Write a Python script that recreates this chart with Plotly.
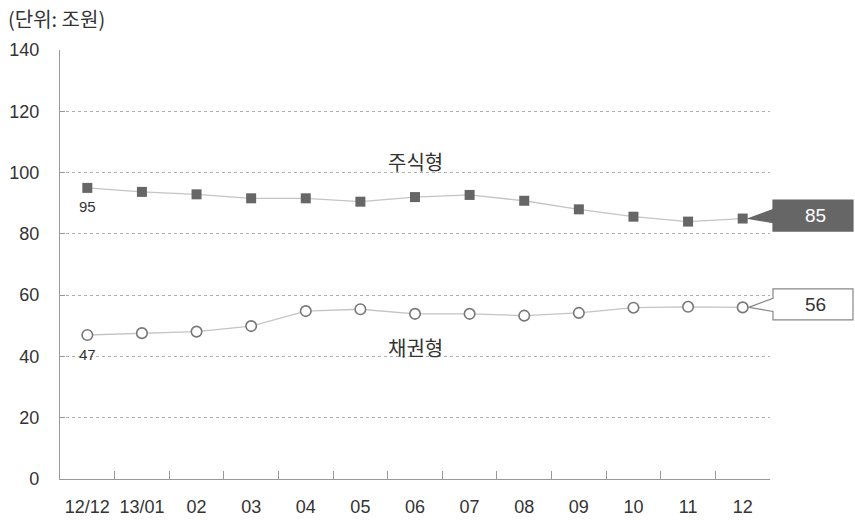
import plotly.graph_objects as go

# Monthly fund balances (trillion won)
months = ["12/12", "13/01", "02", "03", "04", "05", "06", "07", "08", "09", "10", "11", "12"]
equity = [95, 93.7, 92.9, 91.6, 91.6, 90.5, 92.0, 92.7, 90.8, 88.0, 85.6, 84.0, 85]
bond = [47, 47.6, 48.1, 49.9, 54.8, 55.4, 53.9, 53.9, 53.3, 54.2, 55.9, 56.2, 56]
y_ticks = [0, 20, 40, 60, 80, 100, 120, 140]

NUM_FONT = "Liberation Sans, Arial, sans-serif"
KO_FONT = "Noto Sans CJK KR, sans-serif"
TXT = "#333333"

# Plot area geometry (pixels) used for the end-of-line callouts
FIG_W, FIG_H = 855, 520
M_L, M_R, M_T, M_B = 60, 85, 50, 41
PW = FIG_W - M_L - M_R
PH = FIG_H - M_T - M_B
Y_MAX = 140


def px_x(p):
    return (p - M_L) / PW


def px_y(p):
    return 1 - (p - M_T) / PH


def val_to_px_y(v):
    return M_T + PH * (1 - v / Y_MAX)


def cat_to_px_x(i):
    return M_L + (i + 0.5) * PW / len(months)


fig = go.Figure()

fig.add_trace(go.Scatter(
    x=months, y=equity, mode="lines+markers", name="주식형",
    line=dict(color="#c4c4c4", width=1.3),
    marker=dict(symbol="square", size=10, color="#666666",
                line=dict(color="#666666", width=0)),
    cliponaxis=False,
))
fig.add_trace(go.Scatter(
    x=months, y=bond, mode="lines+markers", name="채권형",
    line=dict(color="#c4c4c4", width=1.3),
    marker=dict(symbol="circle", size=10.5, color="white",
                line=dict(color="#777777", width=1.6)),
    cliponaxis=False,
))

annotations = [
    dict(text="(단위: 조원)", xref="paper", yref="paper",
         x=px_x(6), y=px_y(18), xanchor="left", yanchor="middle",
         showarrow=False, font=dict(size=20, color=TXT, family=KO_FONT)),
    dict(text=str(round(equity[0])), x=months[0], y=equity[0], yshift=-19,
         showarrow=False, font=dict(size=15, color=TXT, family=NUM_FONT)),
    dict(text=str(round(bond[0])), x=months[0], y=bond[0], yshift=-20,
         showarrow=False, font=dict(size=15, color=TXT, family=NUM_FONT)),
    dict(text="주식형", x=months[6], y=103.5, showarrow=False,
         font=dict(size=20, color=TXT, family=KO_FONT)),
    dict(text="채권형", x=months[6], y=43, showarrow=False,
         font=dict(size=20, color=TXT, family=KO_FONT)),
]

shapes = []


def callout(value, fill, line_col, text_col):
    """Box to the right of the plot with a wedge pointing at the last point."""
    tip_x = cat_to_px_x(len(months) - 1) + 6
    tip_y = val_to_px_y(value)
    cy = tip_y - 3
    left, right = 773, 853
    top, bot = cy - 15.5, cy + 15.5
    w1, w2 = tip_y - 9, tip_y + 4
    pts = [(left, top), (right, top), (right, bot), (left, bot),
           (left, w2), (tip_x, tip_y), (left, w1)]
    path = "M " + " L ".join(f"{px_x(a):.5f},{px_y(b):.5f}" for a, b in pts) + " Z"
    shapes.append(dict(type="path", path=path, xref="paper", yref="paper",
                       fillcolor=fill, line=dict(color=line_col, width=1.2),
                       layer="above"))
    annotations.append(dict(text=str(round(value)), xref="paper", yref="paper",
                            x=px_x((left + right) / 2 + 3), y=px_y(cy),
                            xanchor="center", yanchor="middle", showarrow=False,
                            font=dict(size=19, color=text_col, family=NUM_FONT)))


callout(equity[-1], "#666666", "#666666", "white")
callout(bond[-1], "white", "#888888", TXT)

fig.update_layout(
    width=FIG_W, height=FIG_H,
    margin=dict(l=M_L, r=M_R, t=M_T, b=M_B, pad=0, autoexpand=False),
    paper_bgcolor="white", plot_bgcolor="white",
    showlegend=False,
    font=dict(family=NUM_FONT, color=TXT, size=18),
    annotations=annotations, shapes=shapes,
)
fig.update_xaxes(
    type="category", range=[-0.5, len(months) - 0.5], automargin=False,
    showline=True, linecolor="#999999", linewidth=1.2,
    showgrid=False, ticks="inside", tickson="boundaries",
    ticklen=8, tickcolor="#999999", tickwidth=1,
    ticklabelstandoff=11,
    tickfont=dict(size=18, color=TXT, family=NUM_FONT),
)
fig.update_yaxes(
    range=[0, Y_MAX], tickvals=y_ticks, automargin=False,
    showline=True, linecolor="#999999", linewidth=1.2,
    showgrid=True, gridcolor="#b0b0b0", gridwidth=1, griddash="3px,3px",
    ticks="inside", ticklen=5, tickcolor="#999999",
    ticklabelstandoff=16, zeroline=False,
    tickfont=dict(size=18, color=TXT, family=NUM_FONT),
)

fig.write_html("out.html")
